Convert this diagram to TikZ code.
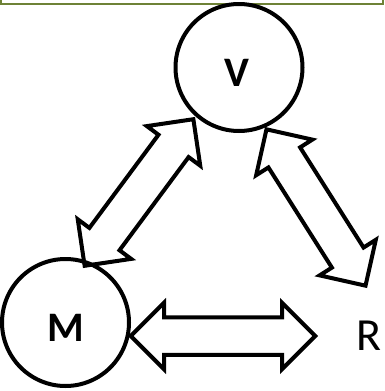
\documentclass[tikz,border=0pt]{standalone}
\usepackage{fontspec}
\setmainfont{Carlito}
\usetikzlibrary{arrows,positioning,shapes,calc}

% fat two-headed arrow between two coordinates
\newcommand{\twoway}[2]{%
  \path let \p1=($(#2)-(#1)$), \n1={atan2(\y1,\x1)}, \n2={veclen(\x1,\y1)-5.5} in
    node[link,rotate=\n1,minimum height=\n2] at ($(#1)!0.5!(#2)$) {};}

\definecolor{olive}{HTML}{6E8236}

\begin{document}
\begin{tikzpicture}[x=1pt,y=-1pt,
            ring/.style={draw,circle,line width=4pt,minimum size=127pt,inner sep=0pt},
            tag/.style={font=\fontsize{42}{50}\selectfont\bfseries},
            link/.style={draw,double arrow,line width=4pt,inner xsep=0pt,inner ysep=16.75pt,
              double arrow tip angle=90,
              double arrow head extend=14.5pt,double arrow head indent=0pt}
          ]
          \useasboundingbox (0,0) rectangle (384,391);
          \draw[olive,line width=2.2pt] (0.8,0) -- (0.8,4) -- (383.2,4) -- (383.2,0);

          \node[ring,label={[tag,xshift=-2pt,yshift=-5pt]center:V}] (v) at (239,67.5) {};
          \node[ring,label={[tag,xshift=0.5pt,yshift=-5pt]center:M}] (m) at (65.5,322.5) {};

          %labels
          \node[font=\fontsize{46}{55}\selectfont,inner sep=0pt] (r) at (369,335.5) {R};

          %arrow ends
          \coordinate (mv1) at (83,268);
          \coordinate (mv2) at (195,117);
          \coordinate (vr1) at (265,127);
          \coordinate (vr2) at (367,288);
          \coordinate (mr1) at (128,336);
          \coordinate (mr2) at (318,336);

          \twoway{mv1}{mv2}
          \twoway{vr1}{vr2}
          \twoway{mr1}{mr2}
      \end{tikzpicture}
\end{document}
